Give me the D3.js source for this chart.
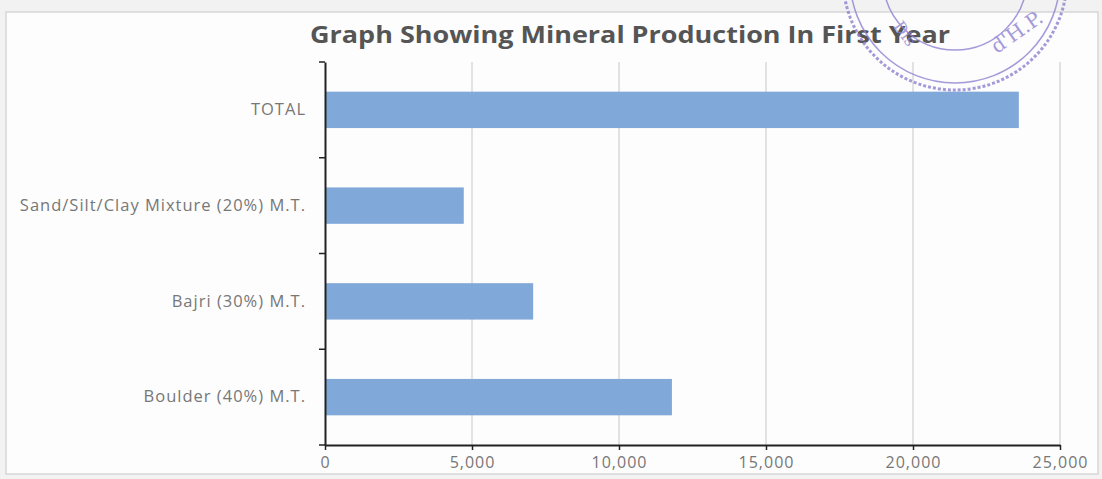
<!DOCTYPE html>
<html>
<head>
<meta charset="utf-8">
<script src="https://cdn.jsdelivr.net/npm/d3@7"></script>
<style>
  html, body { margin: 0; padding: 0; background: #fff; }
  svg { display: block; }
</style>
</head>
<body>
<svg id="chart" width="1102" height="479"></svg>
<script>
// Mineral production in the first year (M.T.)
const categories = ["Boulder (40%) M.T.", "Bajri (30%) M.T.", "Sand/Silt/Clay Mixture (20%) M.T.", "TOTAL"];
const production = [11800, 7080, 4720, 23600];
const tickValues = [0, 5000, 10000, 15000, 20000, 25000];
const chartTitle = "Graph Showing Mineral Production In First Year";

const W = 1102, H = 479;
const margin = { left: 325, right: 42, top: 62, bottom: 34 };
const svg = d3.select("#chart");

// page background and chart frame
svg.append("rect").attr("width", W).attr("height", H).attr("fill", "#f2f2f2");
svg.append("rect").attr("x", 6).attr("y", 12).attr("width", 1092).attr("height", 462)
  .attr("fill", "#fdfdfd").attr("stroke", "#d6d6d6").attr("stroke-width", 1.5);

const x = d3.scaleLinear().domain([0, 25000]).range([margin.left, W - margin.right]);
const y = d3.scaleBand().domain(categories.slice().reverse())
  .range([margin.top, H - margin.bottom]).paddingInner(0.62).paddingOuter(0.31);

// vertical gridlines
svg.append("g").selectAll("line").data(tickValues.slice(1)).join("line")
  .attr("x1", d => x(d)).attr("x2", d => x(d))
  .attr("y1", margin.top).attr("y2", H - margin.bottom)
  .attr("stroke", "#d0d0d0").attr("stroke-width", 1.2);

// bars
svg.append("g").selectAll("rect").data(categories).join("rect")
  .attr("x", x(0)).attr("y", d => y(d))
  .attr("width", (d, i) => x(production[i]) - x(0))
  .attr("height", y.bandwidth())
  .attr("fill", "#80a8d9");

const labelFont = "'Open Sans', sans-serif";

// x axis
const xAxis = svg.append("g").attr("transform", `translate(0,${H - margin.bottom})`)
  .call(d3.axisBottom(x).tickValues(tickValues).tickFormat(d3.format(",")).tickSizeInner(5).tickSizeOuter(0).tickPadding(7));
xAxis.select(".domain").attr("stroke", "#222").attr("stroke-width", 2);
xAxis.selectAll(".tick line").attr("stroke", "#222").attr("stroke-width", 1.5);
xAxis.selectAll("text").attr("fill", "#777").style("font-family", labelFont)
  .style("font-size", "16px").style("letter-spacing", "1px");

// y axis with category boundary ticks
const yAxis = svg.append("g").attr("transform", `translate(${margin.left},0)`)
  .call(d3.axisLeft(y).tickSize(0).tickPadding(19));
yAxis.select(".domain").attr("stroke", "#222").attr("stroke-width", 2);
yAxis.selectAll("text").attr("fill", "#777").style("font-family", labelFont)
  .style("font-size", "16.5px").style("letter-spacing", "1px");
const bounds = d3.range(categories.length + 1).map(i => margin.top + i * (H - margin.bottom - margin.top) / categories.length);
svg.append("g").selectAll("line").data(bounds).join("line")
  .attr("x1", margin.left - 6).attr("x2", margin.left)
  .attr("y1", d => d).attr("y2", d => d)
  .attr("stroke", "#222").attr("stroke-width", 1.5);

// title
svg.append("text").attr("x", 630).attr("y", 43).attr("text-anchor", "middle")
  .attr("fill", "#555").style("font-family", labelFont)
  .style("font-weight", 700).style("font-size", "24px")
  .attr("textLength", 640).attr("lengthAdjust", "spacingAndGlyphs")
  .text(chartTitle);

// office seal partially visible at the top right
const sealColor = "#8f82d2";
const seal = svg.append("g").attr("transform", "translate(955,-22)").attr("fill", "none")
  .attr("stroke", sealColor).attr("opacity", 0.8);
seal.append("circle").attr("r", 112).attr("stroke-width", 3).attr("stroke-dasharray", "3 2");
seal.append("circle").attr("r", 105).attr("stroke-width", 1.5);
seal.append("circle").attr("r", 72).attr("stroke-width", 1.5);
seal.append("text").attr("x", 42).attr("y", 76).attr("transform", "rotate(-35 42 76)")
  .attr("fill", sealColor).attr("stroke", "none")
  .style("font-family", "'DejaVu Serif', serif").style("font-size", "20px").text("d'H.P.");
seal.append("text").attr("x", -62).attr("y", 48).attr("transform", "rotate(55 -62 48)")
  .attr("fill", sealColor).attr("stroke", "none")
  .style("font-family", "'DejaVu Serif', serif").style("font-size", "16px").text("Dis");
</script>
</body>
</html>
